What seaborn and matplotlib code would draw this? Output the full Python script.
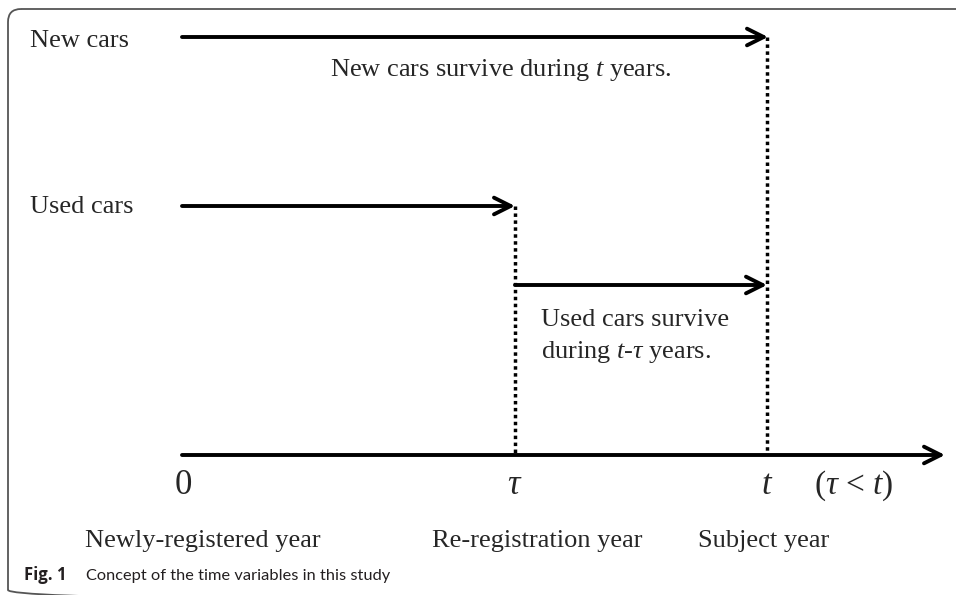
import matplotlib
matplotlib.use("Agg")
import matplotlib.pyplot as plt
import seaborn as sns
import pandas as pd
from matplotlib.patches import FancyBboxPatch

# ---- data (diagram coordinates, figure pixel units) ----
row_labels = ["New cars", "Used cars"]
# solid arrows: (x_start, x_end, y)
arrow_x0 = [182, 182, 515, 182]
arrow_x1 = [768, 515, 767, 945]
arrow_y = [37, 206, 285, 455]
# dotted verticals
dot_x = [515, 767]
dot_y0 = [206, 37]
dot_y1 = [455, 455]
# time marks
time_marks = ["0", r"$\tau$", r"$t$"]
time_x = [183, 515, 767]
bottom_labels = ["Newly-registered year", "Re-registration year", "Subject year"]
bottom_x = [203, 537, 764]

sns.set_theme(style="white")
plt.rcParams["font.family"] = ["Liberation Serif", "DejaVu Serif"]
plt.rcParams["mathtext.fontset"] = "custom"
plt.rcParams["mathtext.rm"] = "Liberation Serif"
plt.rcParams["mathtext.it"] = "Liberation Serif:italic"

W, H = 956, 595
fig = plt.figure(figsize=(W / 100, H / 100), dpi=100)
ax = fig.add_axes([0, 0, 1, 1])

# frame
frame = FancyBboxPatch((8, 9), 1000, 594, boxstyle="round,pad=0,rounding_size=13",
                       fc="none", ec="#555555", lw=1.3, clip_on=False)
ax.add_patch(frame)

# dotted verticals via seaborn
dots = pd.DataFrame({
    "x": [v for x in dot_x for v in (x, x)],
    "y": [v for a, b in zip(dot_y0, dot_y1) for v in (a, b)],
    "seg": [i for i in range(len(dot_x)) for _ in range(2)],
})
sns.lineplot(data=dots, x="x", y="y", units="seg", estimator=None, sort=False,
             color="black", lw=2.5, linestyle=(0, (1, 1.0)), ax=ax)

# solid arrows
for x0, x1, y in zip(arrow_x0, arrow_x1, arrow_y):
    ax.annotate("", xy=(x1, y), xytext=(x0, y),
                arrowprops=dict(arrowstyle="->,head_length=0.6,head_width=0.3",
                                color="black", lw=2.8, shrinkA=0, shrinkB=0,
                                mutation_scale=20))
ax.set_xlim(0, W)
ax.set_ylim(H, 0)
ax.axis("off")

fs = 19
ax.text(30, 47, row_labels[0], fontsize=fs, va="baseline", ha="left")
ax.text(30, 213, row_labels[1], fontsize=fs, va="baseline", ha="left")
ax.text(330, 76, r"New cars survive during $t$ years.", fontsize=fs, va="baseline", ha="left")
ax.text(541, 326, "Used cars survive", fontsize=fs, va="baseline", ha="left")
ax.text(541, 358, r"during $t$-$\tau$ years.", fontsize=fs, va="baseline", ha="left")

for lab, x in zip(time_marks, time_x):
    ax.text(x, 494, lab, fontsize=25, va="baseline", ha="center")
ax.text(814, 494, r"($\tau$ < $t$)", fontsize=24, va="baseline", ha="left")

for lab, x in zip(bottom_labels, bottom_x):
    ax.text(x, 547, lab, fontsize=fs, va="baseline", ha="center")

ax.text(24, 580, "Fig. 1", fontsize=12, fontweight="bold", family=["Open Sans", "DejaVu Sans"],
        va="baseline", ha="left", color="#231f20")
ax.text(86, 580, "Concept of the time variables in this study", fontsize=11.8,
        family=["Lato", "DejaVu Sans"], va="baseline", ha="left", color="#231f20")

fig.savefig("out.png", dpi=100)
